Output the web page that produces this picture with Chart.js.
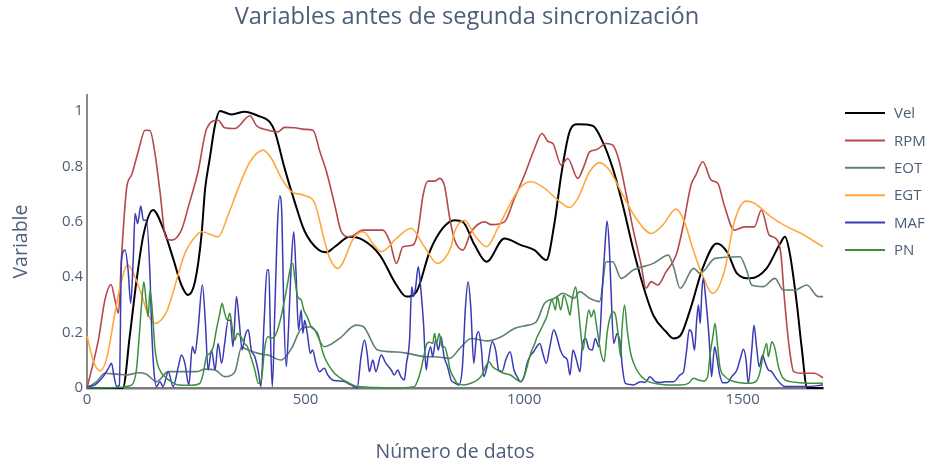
<!DOCTYPE html>
<html><head><meta charset="utf-8">
<script src="https://cdn.jsdelivr.net/npm/chart.js@4.4.1/dist/chart.umd.min.js"></script>
<style>html,body{margin:0;padding:0;background:#fff}#wrap{width:934px;height:468px;position:relative}</style>
</head><body><div id="wrap"><canvas id="c" width="934" height="468"></canvas></div>
<script>
const chartTitle = 'Variables antes de segunda sincronización';
const xTitle = 'Número de datos';
const yTitle = 'Variable';
const seriesNames = ['Vel', 'RPM', 'EOT', 'EGT', 'MAF', 'PN'];
const xTickValues = [0, 500, 1000, 1500];
const xTickLabels = ['0', '500', '1000', '1500'];
const yTickValues = [0, 0.2, 0.4, 0.6, 0.8, 1];
const yTickLabels = ['0', '0.2', '0.4', '0.6', '0.8', '1'];

const velX = [0,82,98,113,129,151,174,197,216,231,247,262,270,281,293,304,331,361,391,418,430,452,475,498,529,548,567,601,632,670,708,731,754,784,814,841,860,887,914,955,993,1024,1051,1070,1085,1104,1122,1157,1180,1203,1226,1250,1272,1296,1325,1342,1358,1380,1410,1441,1465,1487,1517,1555,1586,1597,1608,1624,1635,1648,1684];
const velY = [0,0,0.19,0.384,0.552,0.643,0.577,0.468,0.372,0.336,0.384,0.552,0.715,0.83,0.95,1.0,0.988,0.998,0.983,0.961,0.925,0.794,0.673,0.566,0.5,0.49,0.51,0.546,0.534,0.48,0.372,0.33,0.348,0.492,0.577,0.606,0.6,0.516,0.456,0.54,0.516,0.498,0.462,0.6,0.769,0.925,0.952,0.947,0.889,0.793,0.66,0.5,0.372,0.262,0.203,0.179,0.19,0.282,0.438,0.522,0.49,0.414,0.396,0.432,0.522,0.546,0.486,0.306,0.149,0,0];

const rpmX = [0,26,41,55,64,72,79,91,102,117,133,144,155,167,180,194,216,232,254,274,300,315,338,373,388,414,437,452,475,498,517,533,548,567,582,601,632,677,693,708,723,746,757,769,780,795,807,818,830,841,860,879,910,925,955,978,1001,1024,1041,1055,1066,1085,1100,1123,1138,1150,1165,1188,1203,1218,1234,1249,1268,1279,1291,1306,1325,1348,1363,1382,1393,1409,1428,1443,1458,1481,1504,1527,1543,1561,1576,1588,1595,1607,1617,1634,1664,1684];
const rpmY = [0,0.173,0.318,0.374,0.318,0.27,0.474,0.725,0.769,0.853,0.931,0.93,0.853,0.709,0.545,0.534,0.57,0.655,0.781,0.937,0.967,0.94,0.937,0.983,0.947,0.931,0.925,0.941,0.94,0.934,0.931,0.853,0.781,0.66,0.564,0.546,0.57,0.57,0.528,0.45,0.51,0.516,0.564,0.697,0.747,0.747,0.757,0.73,0.613,0.535,0.498,0.564,0.6,0.59,0.6,0.685,0.769,0.865,0.919,0.89,0.883,0.805,0.829,0.757,0.805,0.853,0.86,0.883,0.877,0.817,0.697,0.577,0.444,0.36,0.384,0.372,0.42,0.48,0.577,0.733,0.769,0.817,0.751,0.74,0.66,0.57,0.582,0.582,0.643,0.552,0.54,0.48,0.336,0.143,0.059,0.053,0.053,0.037];

const eotX = [0,22,41,68,91,117,136,159,186,220,250,270,293,315,338,354,361,392,414,444,468,491,514,543,555,578,616,632,665,708,734,776,795,830,853,879,917,948,978,1009,1028,1047,1070,1089,1115,1127,1150,1173,1188,1203,1222,1250,1296,1330,1342,1357,1388,1403,1437,1494,1509,1521,1547,1574,1593,1620,1647,1673,1684];
const eotY = [0,0.023,0.053,0.05,0.047,0.055,0.05,0.023,0.059,0.059,0.059,0.068,0.065,0.041,0.057,0.149,0.143,0.125,0.119,0.101,0.143,0.215,0.221,0.149,0.155,0.179,0.227,0.222,0.137,0.13,0.125,0.113,0.113,0.107,0.143,0.179,0.17,0.185,0.215,0.227,0.239,0.306,0.324,0.342,0.324,0.348,0.324,0.312,0.456,0.456,0.396,0.426,0.45,0.48,0.438,0.36,0.432,0.414,0.468,0.474,0.426,0.372,0.366,0.396,0.354,0.354,0.372,0.33,0.33];

const egtX = [0,15,30,45,64,75,93,110,125,140,155,182,194,224,251,262,300,323,346,373,403,422,445,468,498,521,543,555,574,612,632,654,673,708,741,772,802,818,833,841,864,887,914,940,971,993,1016,1047,1077,1104,1123,1150,1173,1195,1226,1256,1291,1317,1348,1367,1386,1405,1432,1458,1481,1508,1527,1565,1595,1634,1684];
const egtY = [0.188,0.095,0.062,0.107,0.27,0.36,0.444,0.4,0.336,0.264,0.233,0.275,0.33,0.486,0.552,0.564,0.546,0.625,0.721,0.817,0.859,0.829,0.757,0.709,0.695,0.667,0.534,0.47,0.432,0.546,0.564,0.522,0.492,0.54,0.577,0.51,0.45,0.468,0.51,0.564,0.606,0.552,0.51,0.577,0.673,0.727,0.745,0.721,0.679,0.652,0.685,0.781,0.814,0.787,0.697,0.613,0.558,0.588,0.646,0.6,0.504,0.42,0.342,0.42,0.6,0.675,0.667,0.618,0.588,0.558,0.51];

const mafX = [0,18,37,49,56,62,68,74,79,87,94,100,106,110,116,123,129,136,144,148,153,159,167,174,186,197,209,216,224,233,241,247,254,264,271,277,285,293,300,308,315,323,328,334,342,348,355,361,369,376,384,392,398,405,412,416,420,424,430,436,441,446,450,456,461,467,473,478,484,490,494,498,504,511,516,524,532,543,551,562,574,589,604,618,627,635,641,646,654,661,673,684,696,703,711,718,726,731,738,743,747,752,758,764,770,776,780,786,791,798,804,810,817,825,833,843,851,859,866,872,878,885,891,896,902,908,917,927,935,942,950,958,968,977,984,992,1000,1007,1015,1022,1029,1036,1044,1051,1059,1068,1076,1083,1091,1099,1105,1112,1120,1128,1133,1141,1148,1156,1163,1171,1179,1185,1190,1195,1199,1205,1213,1221,1224,1232,1243,1250,1266,1277,1288,1300,1312,1326,1342,1357,1365,1372,1378,1384,1390,1395,1399,1403,1407,1410,1416,1422,1426,1429,1436,1441,1447,1455,1466,1475,1487,1496,1502,1508,1513,1521,1526,1532,1538,1546,1551,1559,1566,1574,1586,1597,1646,1684];
const mafY = [0.005,0.011,0.041,0.071,0.089,0.041,0.005,0.01,0.462,0.498,0.426,0.306,0.474,0.63,0.594,0.657,0.606,0.606,0.414,0.21,0.065,0.005,0.023,0.005,0.059,0.005,0.077,0.119,0.089,0.011,0.149,0.125,0.21,0.372,0.233,0.065,0.137,0.065,0.161,0.089,0.161,0.245,0.245,0.149,0.33,0.245,0.137,0.185,0.21,0.137,0.113,0.059,0.005,0.233,0.426,0.426,0.173,0.005,0.294,0.594,0.693,0.618,0.294,0.077,0.21,0.438,0.564,0.426,0.21,0.282,0.197,0.245,0.197,0.125,0.137,0.089,0.059,0.071,0.047,0.029,0.026,0.023,0.011,0.0,0.113,0.173,0.125,0.059,0.101,0.059,0.119,0.089,0.065,0.047,0.065,0.041,0.029,0.089,0.173,0.366,0.33,0.366,0.438,0.354,0.233,0.065,0.113,0.149,0.113,0.173,0.137,0.185,0.113,0.077,0.029,0.017,0.011,0.077,0.294,0.384,0.294,0.089,0.185,0.203,0.149,0.041,0.089,0.167,0.137,0.065,0.06,0.101,0.131,0.065,0.041,0.023,0.041,0.089,0.119,0.131,0.149,0.161,0.119,0.089,0.149,0.21,0.179,0.137,0.113,0.101,0.047,0.137,0.101,0.059,0.149,0.179,0.143,0.137,0.179,0.149,0.354,0.51,0.603,0.51,0.354,0.161,0.197,0.149,0.089,0.017,0.013,0.011,0.023,0.02,0.041,0.023,0.02,0.023,0.023,0.047,0.059,0.137,0.21,0.197,0.137,0.245,0.3,0.233,0.354,0.396,0.318,0.21,0.113,0.041,0.149,0.113,0.053,0.019,0.02,0.041,0.065,0.113,0.14,0.101,0.017,0.137,0.227,0.149,0.077,0.119,0.095,0.065,0.06,0.041,0.017,0.005,0.005,0.011];

const pnX = [0,79,87,102,113,120,125,130,135,140,144,148,152,155,161,171,182,193,209,239,258,266,273,281,289,296,304,309,315,321,327,332,338,344,352,360,367,376,384,392,399,407,414,421,429,436,444,452,459,467,471,475,482,490,496,504,513,520,528,536,543,555,566,581,600,618,642,700,749,757,764,772,778,784,791,795,800,806,812,818,825,831,840,847,863,878,893,904,912,920,928,939,954,969,984,992,1000,1007,1015,1023,1030,1038,1045,1053,1059,1064,1072,1076,1084,1091,1099,1105,1110,1118,1124,1129,1135,1141,1148,1154,1160,1165,1171,1176,1183,1190,1196,1203,1209,1215,1221,1224,1230,1236,1244,1251,1258,1269,1285,1304,1327,1357,1376,1388,1399,1410,1420,1426,1432,1437,1443,1448,1460,1475,1494,1517,1532,1540,1548,1555,1559,1567,1574,1582,1593,1609,1631,1662,1684];
const pnY = [0,0.003,0.005,0.01,0.065,0.197,0.306,0.384,0.318,0.257,0.354,0.306,0.221,0.149,0.089,0.053,0.035,0.023,0.011,0.01,0.017,0.053,0.113,0.125,0.149,0.21,0.27,0.306,0.27,0.245,0.27,0.221,0.173,0.197,0.185,0.161,0.149,0.107,0.065,0.017,0.03,0.149,0.185,0.18,0.185,0.21,0.257,0.318,0.378,0.444,0.45,0.402,0.33,0.318,0.282,0.257,0.221,0.21,0.197,0.149,0.113,0.077,0.053,0.035,0.017,0.005,0.003,0,0.005,0.029,0.065,0.125,0.161,0.165,0.161,0.197,0.161,0.197,0.149,0.149,0.113,0.065,0.035,0.017,0.011,0.017,0.029,0.047,0.077,0.095,0.077,0.065,0.053,0.047,0.029,0.023,0.041,0.077,0.125,0.155,0.185,0.21,0.233,0.263,0.3,0.318,0.282,0.33,0.282,0.336,0.3,0.263,0.318,0.366,0.294,0.21,0.137,0.21,0.282,0.257,0.282,0.233,0.173,0.125,0.095,0.197,0.251,0.275,0.265,0.197,0.113,0.21,0.3,0.21,0.125,0.089,0.065,0.041,0.023,0.015,0.011,0.011,0.017,0.035,0.029,0.025,0.041,0.125,0.185,0.233,0.149,0.077,0.041,0.026,0.019,0.017,0.026,0.059,0.125,0.161,0.113,0.167,0.143,0.077,0.035,0.023,0.019,0.017,0.017];

const seriesX = [velX, rpmX, eotX, egtX, mafX, pnX];
const seriesY = [velY, rpmY, eotY, egtY, mafY, pnY];
const colors = ['#000000', '#b5484a', '#5f8073', '#ffa83e', '#3a3ab4', '#3d8f3d'];
const widths = [2, 1.6, 1.6, 1.6, 1.5, 1.5];
const textColor = '#4d5d79';
const FONT = '"Open Sans", "Noto Sans", sans-serif';

const datasets = seriesNames.map((name, i) => ({
  label: name,
  data: seriesX[i].map((x, j) => ({ x: x, y: seriesY[i][j] })),
  borderColor: colors[i],
  backgroundColor: colors[i],
  borderWidth: widths[i],
  pointRadius: 0,
  pointHoverRadius: 0,
  fill: false,
  cubicInterpolationMode: 'monotone',
  order: seriesNames.length - i,
  clip: 3
}));

const legendPlugin = {
  id: 'sideLegend',
  afterDraw(chart) {
    const ctx = chart.ctx;
    ctx.save();
    chart.data.datasets.forEach((ds, i) => {
      const y = 113 + i * 27.4;
      ctx.strokeStyle = ds.borderColor;
      ctx.lineWidth = 2;
      ctx.beginPath(); ctx.moveTo(845, y); ctx.lineTo(885, y); ctx.stroke();
      ctx.fillStyle = textColor;
      ctx.font = '15px ' + FONT;
      ctx.textBaseline = 'middle';
      ctx.textAlign = 'left';
      ctx.fillText(ds.label, 894, y + 1);
    });
    ctx.restore();
  }
};

new Chart(document.getElementById('c'), {
  type: 'line',
  data: { datasets: datasets },
  plugins: [legendPlugin],
  options: {
    responsive: false,
    animation: false,
    devicePixelRatio: 1,
    layout: { padding: 0 },
    plugins: {
      legend: { display: false },
      tooltip: { enabled: false },
      title: {
        display: true,
        text: chartTitle,
        color: textColor,
        font: { family: FONT, size: 23.6, weight: 'normal' },
        padding: { top: 3, bottom: 63.7 }
      }
    },
    scales: {
      x: {
        type: 'linear',
        bounds: 'data',
        min: 0, max: 1684,
        grid: { display: false, drawTicks: false },
        border: { display: true, color: '#7a7a7a', width: 2.5 },
        ticks: {
          padding: 3, autoSkip: false,
          color: textColor, font: { family: FONT, size: 15 },
          maxRotation: 0,
          callback: (v) => { const k = xTickValues.indexOf(v); return k >= 0 ? xTickLabels[k] : ''; }
        },
        afterBuildTicks: (s) => { s.ticks = xTickValues.map(v => ({ value: v })); },
        title: { display: true, text: xTitle, color: textColor, font: { family: FONT, size: 19.5 }, padding: { top: 0, bottom: 3.5 } },
        afterFit: (s) => { s.height = 80; }
      },
      y: {
        type: 'linear',
        bounds: 'data',
        min: 0, max: 1.058,
        grid: { display: false, drawTicks: false },
        border: { display: true, color: '#8a8a8a', width: 2 },
        ticks: {
          padding: 4, autoSkip: false,
          color: textColor, font: { family: FONT, size: 15 },
          callback: (v) => { const k = yTickValues.findIndex(t => Math.abs(t - v) < 1e-9); return k >= 0 ? yTickLabels[k] : ''; }
        },
        afterBuildTicks: (s) => { s.ticks = yTickValues.map(v => ({ value: v })); },
        title: { display: true, text: yTitle, color: textColor, font: { family: FONT, size: 19.5 }, padding: { top: 9.3, bottom: 0 } },
        afterFit: (s) => { s.width = 87; }
      },
      yRight: {
        type: 'linear',
        position: 'right',
        display: true,
        grid: { display: false, drawTicks: false },
        border: { display: false },
        ticks: { display: false },
        afterFit: (s) => { s.width = 111; }
      }
    }
  }
});
</script>
</body></html>
